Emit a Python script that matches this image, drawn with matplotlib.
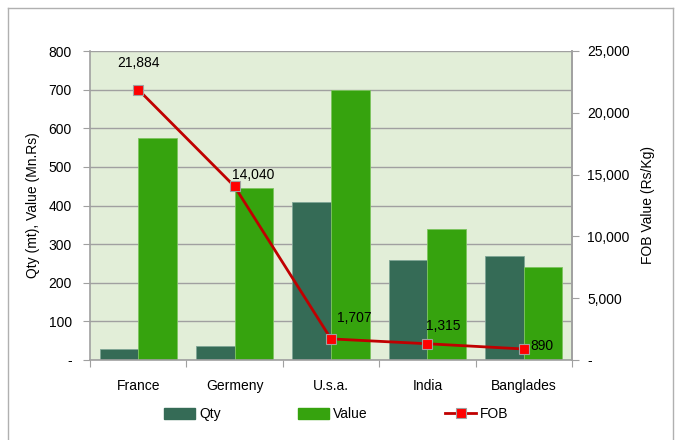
import matplotlib.pyplot as plt
import numpy as np
from matplotlib.lines import Line2D
from matplotlib.ticker import FuncFormatter

countries = ['France', 'Germeny', 'U.s.a.', 'India', 'Banglades']
qty = [28, 35, 410, 260, 268]
value = [574, 446, 700, 338, 241]
fob = [21884, 14040, 1707, 1315, 890]

qty_color = '#356B56'
value_color = '#36A30E'
line_color = '#C00000'
grid_color = '#A0A0A0'

plt.rcParams['font.family'] = ['Liberation Sans', 'DejaVu Sans']
plt.rcParams['font.size'] = 10

fig = plt.figure(figsize=(6.81, 4.40), dpi=100)
ax = fig.add_axes([90 / 681, 80 / 440, 482 / 681, 309 / 440])
ax.set_facecolor('#E2EED8')

x = np.arange(len(countries))
w = 0.4
ax.bar(x - w / 2, qty, w, color=qty_color, edgecolor='#7FA595', linewidth=0.6, label='Qty', zorder=2)
ax.bar(x + w / 2, value, w, color=value_color, edgecolor='#7CC45E', linewidth=0.6, label='Value', zorder=2)

ax.set_xlim(-0.5, len(countries) - 0.5)
ax.set_ylim(0, 800)
ax.set_yticks(np.arange(0, 801, 100))
ax.yaxis.set_major_formatter(FuncFormatter(lambda v, p: '-' if v == 0 else f'{v:.0f}'))
ax.grid(axis='y', color=grid_color, linewidth=1, zorder=1)
ax.set_axisbelow(True)

# category labels with ticks between categories
ax.set_xticks(np.arange(len(countries) + 1) - 0.5)
ax.set_xticklabels([])
ax.set_xticks(x, minor=True)
ax.set_xticklabels(countries, minor=True)
ax.tick_params(axis='x', which='minor', length=0, pad=14)
ax.tick_params(axis='x', which='major', length=5, color=grid_color)
ax.tick_params(axis='y', length=5, color=grid_color, pad=8)

ax.spines['top'].set_visible(False)
for s in ['left', 'bottom', 'right']:
    ax.spines[s].set_color(grid_color)
    ax.spines[s].set_linewidth(1.2)

ax.set_ylabel('Qty (mt), Value (Mn.Rs)', labelpad=6)

ax2 = ax.twinx()
ax2.set_ylim(0, 25000)
ax2.set_yticks(np.arange(0, 25001, 5000))
ax2.yaxis.set_major_formatter(FuncFormatter(lambda v, p: '-' if v == 0 else f'{v:,.0f}'))
ax2.tick_params(axis='y', length=5, color=grid_color, pad=6)
for s in ['top', 'left', 'bottom']:
    ax2.spines[s].set_visible(False)
ax2.spines['right'].set_color(grid_color)
ax2.spines['right'].set_linewidth(1.2)
ax2.plot(x, fob, color=line_color, linewidth=2, marker='s', markersize=7,
         markerfacecolor='#FF0000', markeredgecolor='#A0A0A0', markeredgewidth=0.8,
         label='FOB', zorder=3)
ax2.set_ylabel('FOB Value (Rs/Kg)', labelpad=8)

offsets = [(0, 14, 'center'), (-2, 3, 'left'), (4, 10, 'left'), (-1, 8, 'left'), (5, -3, 'left')]
for xi, v, (dx, dy, ha) in zip(x, fob, offsets):
    ax2.annotate(f'{v:,}', (xi, v), xytext=(dx, dy), textcoords='offset points',
                 ha=ha, va='bottom', fontsize=10)

handles = [
    plt.Rectangle((0, 0), 1, 1, color=qty_color),
    plt.Rectangle((0, 0), 1, 1, color=value_color),
    Line2D([], [], color=line_color, linewidth=2, marker='s', markersize=7,
           markerfacecolor='#FF0000', markeredgecolor='#A0A0A0', markeredgewidth=0.8),
]
fig.legend(handles, ['Qty', 'Value', 'FOB'], loc='center', bbox_to_anchor=(0.494, 0.058),
           ncol=3, frameon=False, handlelength=2.2, handleheight=0.9, handletextpad=0.3,
           columnspacing=5.6)

# outer chart border
for xs, ys in [([8, 8], [0, 432]), ([8, 673], [432, 432]), ([673, 673], [432, 0])]:
    fig.add_artist(Line2D(np.array(xs) / 681, np.array(ys) / 440, color='#B0B0B0', linewidth=1))

fig.savefig('out.png', dpi=100)
